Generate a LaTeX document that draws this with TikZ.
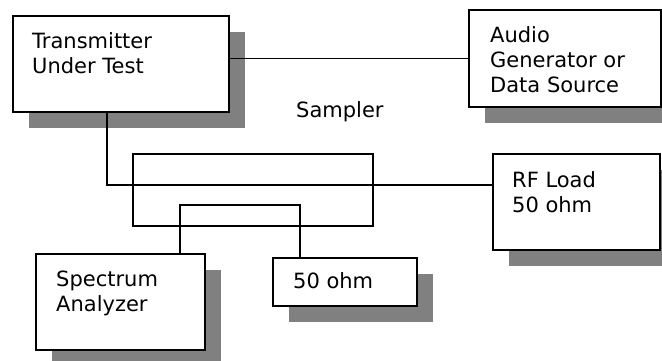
\documentclass[tikz,border=0pt]{standalone}
\usepackage{fontspec}
\setmainfont{DejaVu Sans}
\usetikzlibrary{shadows}

\tikzset{
  unitbox/.style={draw, line width=1.8pt, fill=white, anchor=north west, inner sep=0pt,
    drop shadow={shadow xshift=16pt, shadow yshift=-16pt, fill=black!50, opacity=1}},
  boxtext/.style={anchor=north west, inner sep=0pt, align=left,
    font=\fontsize{21}{25}\selectfont},
  wire/.style={line width=1.4pt}
}

\begin{document}
\begin{tikzpicture}[x=1pt, y=-1pt]

    \useasboundingbox (0,0) rectangle (662,360);

    % 1. Geraete (Kaesten mit Schatten)
    \node[unitbox, minimum width=216pt, minimum height=96pt] (tx) at (12,15) {};
    \node[unitbox, minimum width=192pt, minimum height=97pt] (audio) at (468,9) {};
    \node[unitbox, minimum width=167pt, minimum height=96pt] (rfload) at (492,153) {};
    \node[unitbox, minimum width=169pt, minimum height=96pt] (spec) at (35,253) {};
    \node[unitbox, minimum width=144pt, minimum height=48pt] (term) at (272,257) {};

    % 2. Koppler (Sampler) ohne Schatten
    \node[draw, line width=1.6pt, anchor=north west, inner sep=0pt,
          minimum width=240pt, minimum height=72pt] (smp) at (132,153) {};

    % 3. Beschriftungen
    \node[boxtext] (txlbl) at ([shift={(20,17)}]tx.north west) {Transmitter\\Under Test};
    \node[boxtext] (audiolbl) at ([shift={(22,17)}]audio.north west) {Audio\\Generator or\\Data Source};
    \node[boxtext] (rfloadlbl) at ([shift={(20,18)}]rfload.north west) {RF Load\\50 ohm};
    \node[boxtext] (speclbl) at ([shift={(21,18)}]spec.north west) {Spectrum\\Analyzer};
    \node[boxtext] (termlbl) at ([shift={(21,15)}]term.north west) {50 ohm};
    \node[boxtext] (smplbl) at (296,101) {Sampler};

    % 4. Hilfspunkte fuer die Leitungen
    \coordinate (tap) at (107,185);
    \coordinate (cplA) at (180,205);
    \coordinate (cplB) at (300,205);

    % 5. Leitungen
    \draw[wire] (audio.west) -- (audio.west -| tx.east);
    \draw[wire] (tx.south -| tap) -- (tap) -- (tap -| rfload.west);
    \draw[wire] (spec.north -| cplA) -- (cplA) -- (cplB) -- (term.north -| cplB);

\end{tikzpicture}
\end{document}
